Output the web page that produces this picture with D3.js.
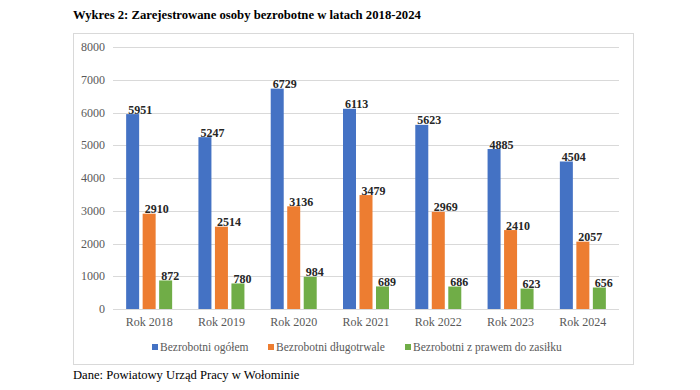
<!DOCTYPE html>
<html><head><meta charset="utf-8">
<script src="https://cdn.jsdelivr.net/npm/d3@7"></script>
<style>body{margin:0;background:#fff}svg{display:block}</style>
</head><body><svg id="c" width="700" height="390"></svg>
<script>
const categories = ["Rok 2018","Rok 2019","Rok 2020","Rok 2021","Rok 2022","Rok 2023","Rok 2024"];
const seriesNames = ["Bezrobotni ogółem","Bezrobotni długotrwale","Bezrobotni z prawem do zasiłku"];
const ogolem = [5951,5247,6729,6113,5623,4885,4504];
const dlugotrwale = [2910,2514,3136,3479,2969,2410,2057];
const zasilek = [872,780,984,689,686,623,656];
const yTicks = [0,1000,2000,3000,4000,5000,6000,7000,8000];
const colors = ["#4472C4","#ED7D31","#70AD47"];
const series = [ogolem, dlugotrwale, zasilek];

const svg = d3.select("#c");
const font = "'Liberation Serif','Times New Roman',serif";
svg.append("text").attr("x",73).attr("y",19).attr("font-family",font).attr("font-weight","bold")
  .attr("font-size",12.7).attr("fill","#000").text("Wykres 2: Zarejestrowane osoby bezrobotne w latach 2018-2024");
svg.append("rect").attr("x",73.5).attr("y",33.5).attr("width",560).attr("height",331)
  .attr("fill","#fff").attr("stroke","#d9d9d9");

const x = d3.scaleBand().domain(categories).range([113,619]);
const y = d3.scaleLinear().domain([0,8000]).range([309,47]);
const barW = 13, gap = 3.5;

const g = svg.append("g");
g.selectAll("line.grid").data(yTicks).join("line").attr("class","grid")
  .attr("x1",113).attr("x2",619).attr("y1",d=>Math.round(y(d))+0.5).attr("y2",d=>Math.round(y(d))+0.5)
  .attr("stroke","#d9d9d9").attr("stroke-width",1);
g.selectAll("text.yt").data(yTicks).join("text").attr("class","yt")
  .attr("x",105).attr("y",d=>y(d)+4).attr("text-anchor","end")
  .attr("font-family",font).attr("font-size",12).attr("fill","#595959").text(d=>d);
g.selectAll("text.xt").data(categories).join("text").attr("class","xt")
  .attr("x",d=>x(d)+x.bandwidth()/2).attr("y",326).attr("text-anchor","middle")
  .attr("font-family",font).attr("font-size",12).attr("fill","#595959").text(d=>d);

series.forEach((vals,si)=>{
  const off = -(3*barW+2*gap)/2 + si*(barW+gap);
  const bx = (i)=> x(categories[i]) + x.bandwidth()/2 + off;
  g.selectAll("rect.s"+si).data(vals).join("rect").attr("class","s"+si)
    .attr("x",(d,i)=>bx(i)).attr("y",d=>y(d)).attr("width",barW).attr("height",d=>y(0)-y(d))
    .attr("fill",colors[si]);
  g.selectAll("text.l"+si).data(vals).join("text").attr("class","l"+si)
    .attr("x",(d,i)=>bx(i)+2).attr("y",d=>y(d)-0.5)
    .attr("font-family",font).attr("font-weight","bold").attr("font-size",12).attr("fill","#262626").text(d=>d);
});

const legX = [152,268,405];
const leg = svg.append("g");
seriesNames.forEach((n,i)=>{
  leg.append("rect").attr("x",legX[i]).attr("y",344).attr("width",6).attr("height",6).attr("fill",colors[i]);
  leg.append("text").attr("x",legX[i]+8).attr("y",351).attr("font-family",font).attr("font-size",11.5)
    .attr("fill","#595959").text(n);
});
svg.append("text").attr("x",73).attr("y",379).attr("font-family",font).attr("font-size",12.6)
  .attr("fill","#000").text("Dane: Powiatowy Urząd Pracy w Wołominie");
</script></body></html>
